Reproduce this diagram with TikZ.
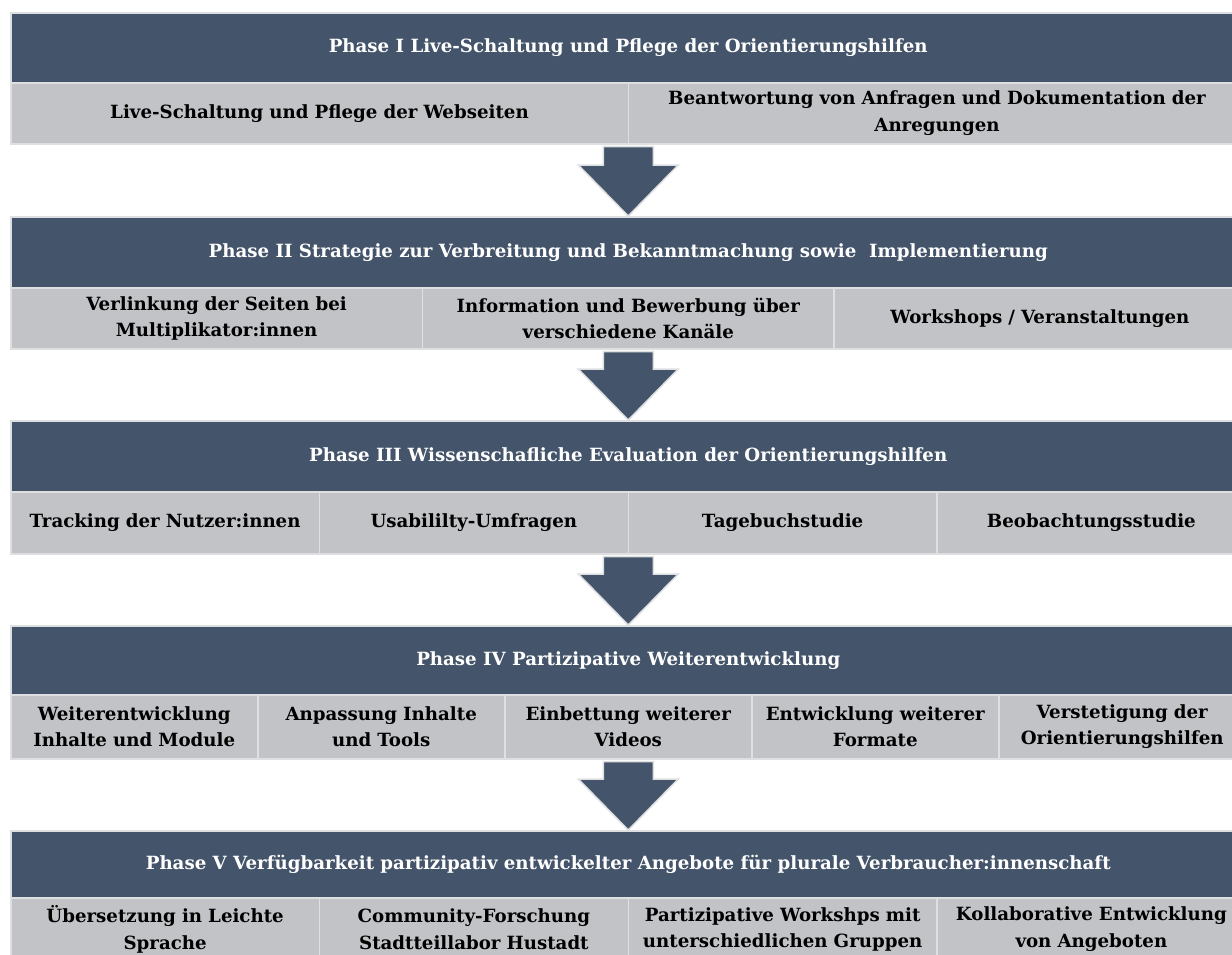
\documentclass[tikz,border=0pt]{standalone}
\usepackage{fontspec}
\setmainfont{DejaVu Serif}
\usetikzlibrary{calc}
\definecolor{dark}{HTML}{44546A}
\definecolor{cellgrey}{HTML}{C1C3C7}
\definecolor{rulecol}{HTML}{DEDFE1}
\newcommand{\fs}{\fontsize{18.2}{26.5}\selectfont\bfseries}
\tikzset{
  titlebox/.style={fill=dark, draw=rulecol, line width=1.5pt, text=white, font=\fs,
    anchor=north west, inner sep=0pt, minimum width=1235pt, align=center},
  cellbox/.style={fill=cellgrey, draw=rulecol, line width=1.5pt, text=black, font=\fs,
    anchor=north west, inner sep=0pt, align=center},
  barrow/.style={fill=dark, draw=rulecol, line width=1.5pt, line join=miter}
}
\newcommand{\blockarrow}[2]{%
  \coordinate (A) at ($(#2.north |- #1.south)+(0,2)$);
  \coordinate (B) at (#2.north);
  \draw[barrow] ($(A)+(-25,0)$) -- ($(B)+(-25,-51)$) -- ($(B)+(-50,-51)$) -- (B)
    -- ($(B)+(50,-51)$) -- ($(B)+(25,-51)$) -- ($(A)+(25,0)$) -- cycle;}
\begin{document}
\begin{tikzpicture}[x=1pt,y=-1pt]
\useasboundingbox[fill=white] (0,0) rectangle (1232,954);
% Phase I
\node[titlebox, minimum height=70pt] (t1) at (10,12) {Phase I Live-Schaltung und Pflege der Orientierungshilfen};
\node[cellbox, minimum width=617.5pt, minimum height=61pt, text width=600pt] (c11) at (10,82) {Live-Schaltung und Pflege der Webseiten};
\node[cellbox, minimum width=617.5pt, minimum height=61pt, text width=600pt] (c12) at (627.5,82) {Beantwortung von Anfragen und Dokumentation der\\Anregungen};
% Phase II
\node[titlebox, minimum height=71pt] (t2) at (10,216) {Phase II Strategie zur Verbreitung und Bekanntmachung sowie\ \ Implementierung};
\node[cellbox, minimum width=411.7pt, minimum height=61pt, text width=400pt] (c21) at (10,287) {Verlinkung der Seiten bei\\Multiplikator:innen};
\node[cellbox, minimum width=411.7pt, minimum height=61pt, text width=400pt] (c22) at (421.7,287) {Information und Bewerbung über\\verschiedene Kanäle};
\node[cellbox, minimum width=411.7pt, minimum height=61pt, text width=400pt] (c23) at (833.3,287) {Workshops / Veranstaltungen};
% Phase III
\node[titlebox, minimum height=71pt] (t3) at (10,420) {Phase III Wissenschafliche Evaluation der Orientierungshilfen};
\node[cellbox, minimum width=308.75pt, minimum height=62pt, text width=300pt] (c31) at (10,491) {Tracking der Nutzer:innen};
\node[cellbox, minimum width=308.75pt, minimum height=62pt, text width=300pt] (c32) at (318.75,491) {Usabililty-Umfragen};
\node[cellbox, minimum width=308.75pt, minimum height=62pt, text width=300pt] (c33) at (627.5,491) {Tagebuchstudie};
\node[cellbox, minimum width=308.75pt, minimum height=62pt, text width=300pt] (c34) at (936.25,491) {Beobachtungsstudie};
% Phase IV
\node[titlebox, minimum height=69pt] (t4) at (10,625) {Phase IV Partizipative Weiterentwicklung};
\node[cellbox, minimum width=247pt, minimum height=64pt, text width=245pt] (c41) at (10,694) {Weiterentwicklung\\Inhalte und Module};
\node[cellbox, minimum width=247pt, minimum height=64pt, text width=245pt] (c42) at (257,694) {Anpassung Inhalte\\und Tools};
\node[cellbox, minimum width=247pt, minimum height=64pt, text width=245pt] (c43) at (504,694) {Einbettung weiterer\\Videos};
\node[cellbox, minimum width=247pt, minimum height=64pt, text width=245pt] (c44) at (751,694) {Entwicklung weiterer\\Formate};
\node[cellbox, minimum width=247pt, minimum height=64pt, text width=245pt] (c45) at (998,694) {Verstetigung der\\Orientierungshilfen};
% Phase V
\node[titlebox, minimum height=67pt] (t5) at (10,830) {Phase V Verfügbarkeit partizipativ entwickelter Angebote für plurale Verbraucher:innenschaft};
\node[cellbox, minimum width=308.75pt, minimum height=63pt, text width=300pt] (c51) at (10,897) {Übersetzung in Leichte\\Sprache};
\node[cellbox, minimum width=308.75pt, minimum height=63pt, text width=300pt] (c52) at (318.75,897) {Community-Forschung\\Stadtteillabor Hustadt};
\node[cellbox, minimum width=308.75pt, minimum height=63pt, text width=300pt] (c53) at (627.5,897) {Partizipative Workshps mit\\unterschiedlichen Gruppen};
\node[cellbox, minimum width=308.75pt, minimum height=63pt, text width=300pt] (c54) at (936.25,897) {Kollaborative Entwicklung\\von Angeboten};
% arrows
\blockarrow{c11}{t2}
\blockarrow{c21}{t3}
\blockarrow{c31}{t4}
\blockarrow{c41}{t5}
\end{tikzpicture}
\end{document}
